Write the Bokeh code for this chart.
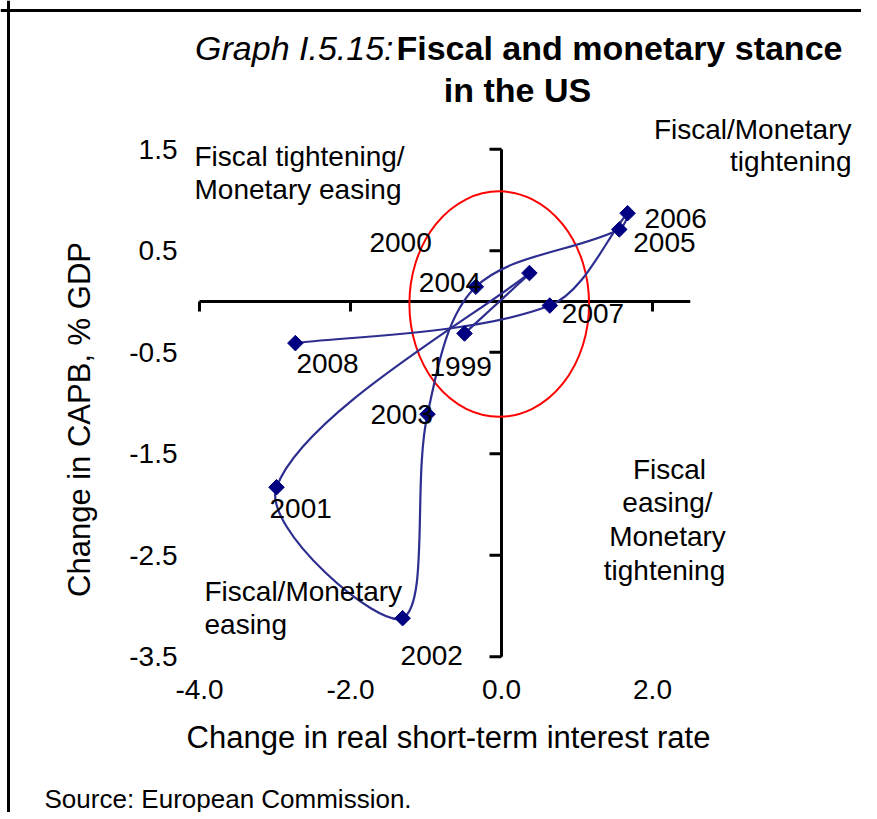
import numpy as np
from bokeh.plotting import figure
from bokeh.models import Span, Range1d, ColumnDataSource
from bokeh.core.properties import value
from bokeh.embed import file_html
from bokeh.resources import INLINE

# ---------------- data ----------------
years = ["1999", "2000", "2001", "2002", "2003", "2004", "2005", "2006", "2007", "2008"]
rate_change = [-0.49, 0.37, -2.98, -1.31, -0.98, -0.34, 1.56, 1.67, 0.64, -2.73]
capb_change = [-0.315, 0.28, -1.83, -3.12, -1.11, 0.145, 0.71, 0.87, -0.04, -0.41]

x_ticks = [-4.0, -2.0, 0.0, 2.0]
y_ticks = [1.5, 0.5, -0.5, -1.5, -2.5, -3.5]
x_axis_extent = [-4.0, 2.5]
y_axis_extent = [-3.5, 1.5]

highlight_x = [-0.03]
highlight_y = [-0.025]
highlight_w = [2.38]
highlight_h = [2.22]

# ---------------- layout (pixels, style only) ----------------
W, H = 861, 812
OFF = 1                      # canvas offset on the page
ORIGIN_PX, ORIGIN_PY = 502, 302
SX, SY = 75.5, 101.5         # pixels per unit


def fx(px):
    return (px - ORIGIN_PX) / SX


def fy(py):
    return (ORIGIN_PY - py) / SY


label_dx = [-35, -160, -7, -2, -57, -57, 14, 17, 12, 1]
label_dy = [33, -31, 21, 37, 0, -4, 13, 5, 8, 20]

FONT = "Liberation Sans"
NAVY = "#000080"

p = figure(width=W, height=H, title=None,
           x_range=Range1d(fx(OFF), fx(OFF + W)),
           y_range=Range1d(fy(OFF + H), fy(OFF)),
           x_axis_location=None, y_axis_location=None,
           output_backend="svg", toolbar_location=None,
           min_border=0)
p.grid.visible = False
p.outline_line_color = None
p.background_fill_color = "white"
p.border_fill_color = "white"

# frame border lines (top & left)
p.add_layout(Span(location=fy(11), dimension="width", line_color="black", line_width=3))
p.add_layout(Span(location=fx(9), dimension="height", line_color="black", line_width=3))

# axes crossing at the origin
p.segment(x0=[x_axis_extent[0]], y0=[0], x1=[x_axis_extent[1]], y1=[0],
          line_color="black", line_width=3)
p.segment(x0=[0], y0=[y_axis_extent[0]], x1=[0], y1=[y_axis_extent[1]],
          line_color="black", line_width=3)

# tick marks
xt = [t for t in x_ticks if t != 0]
p.segment(x0=xt, y0=[0] * len(xt), x1=xt, y1=[-10 / SY] * len(xt),
          line_color="black", line_width=3)
p.segment(x0=[0] * len(y_ticks), y0=y_ticks, x1=[-12 / SX] * len(y_ticks), y1=y_ticks,
          line_color="black", line_width=3)

# tick labels
p.text(x=x_ticks, y=[fy(690)] * len(x_ticks), text=["%.1f" % t for t in x_ticks],
       text_font=value(FONT), text_font_size="28px", text_color="black",
       text_align="center", text_baseline="middle")
p.text(x=[fx(178)] * len(y_ticks), y=y_ticks, text=["%.1f" % t for t in y_ticks],
       text_font=value(FONT), text_font_size="28px", text_color="black",
       text_align="right", text_baseline="middle")

# highlight ellipse
p.ellipse(x=highlight_x, y=highlight_y, width=highlight_w, height=highlight_h,
          fill_color=None, line_color="red", line_width=2)

# smoothed connecting line (chord-length scaled Catmull-Rom -> cubic Bezier)
x = np.array(rate_change)
y = np.array(capb_change)
n = len(x)
seg = np.hypot(np.diff(x) * SX, np.diff(y) * SY)      # segment lengths on screen
tx = np.zeros(n); ty = np.zeros(n)
for i in range(n):
    a = max(i - 1, 0)
    b = min(i + 1, n - 1)
    tx[i] = x[b] - x[a]
    ty[i] = y[b] - y[a]
x0, y0, x1, y1, cx0, cy0, cx1, cy1 = ([] for _ in range(8))
for i in range(n - 1):
    # weight of the outgoing tangent at point i and incoming at i+1
    if i == 0:
        w0 = 1.0 / 6.0
    else:
        w0 = seg[i] / (seg[i - 1] + seg[i]) / 3.0
    if i + 1 == n - 1:
        w1 = 1.0 / 6.0
    else:
        w1 = seg[i] / (seg[i] + seg[i + 1]) / 3.0
    x0.append(x[i]); y0.append(y[i])
    x1.append(x[i + 1]); y1.append(y[i + 1])
    cx0.append(x[i] + tx[i] * w0)
    cy0.append(y[i] + ty[i] * w0)
    cx1.append(x[i + 1] - tx[i + 1] * w1)
    cy1.append(y[i + 1] - ty[i + 1] * w1)
p.bezier(x0=x0, y0=y0, x1=x1, y1=y1, cx0=cx0, cy0=cy0, cx1=cx1, cy1=cy1,
         line_color="#2e2e90", line_width=2.2)

src = ColumnDataSource(dict(x=rate_change, y=capb_change, year=years,
                            dx=label_dx, dy=label_dy))
p.scatter("x", "y", source=src, marker="square", angle=np.pi / 4, size=11,
          fill_color=NAVY, line_color=NAVY)
p.text("x", "y", text="year", source=src, x_offset="dx", y_offset="dy",
       text_font=value(FONT), text_font_size="28px", text_color="black",
       text_align="left", text_baseline="middle")


def add_text(txt, px, py, align="left", size="28px", style="normal", angle=0.0):
    p.text(x=[fx(px)], y=[fy(py)], text=[txt], angle=angle,
           text_font=value(FONT), text_font_size=size, text_font_style=style,
           text_color="black", text_align=align, text_baseline="middle")


# title
add_text("Graph I.5.15:", 394, 48, align="right", size="34px", style="italic")
add_text("Fiscal and monetary stance", 397, 48, size="34px", style="bold")
add_text("in the US", 518, 90, align="center", size="34px", style="bold")

# axis titles
add_text("Change in real short-term interest rate", 449, 738, align="center", size="31px")
add_text("Change in CAPB, % GDP", 80, 420, align="center", size="31px", angle=np.pi / 2)

# quadrant labels
add_text("Fiscal/Monetary", 852, 130, align="right")
add_text("tightening", 852, 162, align="right")
add_text("Fiscal tightening/", 195, 157)
add_text("Monetary easing", 195, 190)
add_text("Fiscal", 670, 470, align="center")
add_text("easing/", 668, 503, align="center")
add_text("Monetary", 668, 537, align="center")
add_text("tightening", 665, 571, align="center")
add_text("Fiscal/Monetary", 205, 592)
add_text("easing", 205, 625)

# source
add_text("Source: European Commission.", 45, 799, size="26px")

open("out.html", "w").write(file_html(p, INLINE))
